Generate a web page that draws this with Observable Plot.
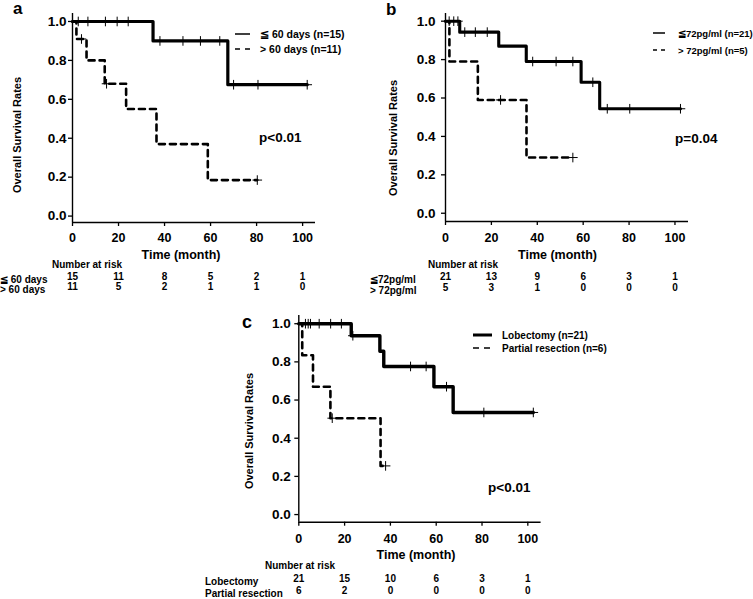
<!DOCTYPE html>
<html><head><meta charset="utf-8">
<script src="https://cdn.jsdelivr.net/npm/d3@7"></script>
<script src="https://cdn.jsdelivr.net/npm/@observablehq/plot@0.6"></script>
<style>
body{margin:0;background:#fff;}
#wrap{position:relative;width:753px;height:599px;overflow:hidden;background:#fff;}
</style></head><body><div id="wrap"></div>
<script>
// ---------- data ----------
const xTicks = [0, 20, 40, 60, 80, 100];
const yTicks = [0, 0.2, 0.4, 0.6, 0.8, 1.0];
const riskTimes = [0, 20, 40, 60, 80, 100];

// panel a
const aSolidT = [0, 35, 67.5, 102];
const aSolidS = [1, 0.9, 0.675, 0.675];
const aSolidCens = [2.5, 6.7, 14.3, 19.4, 24.2, 38, 48, 55.6, 64, 70, 80.6, 102];
const aDashT = [0, 1.7, 6.1, 14, 23.3, 36.5, 58.8, 80.3];
const aDashS = [1, 0.91, 0.80, 0.68, 0.55, 0.37, 0.185, 0.185];
const aDashCens = [3.9, 14.8, 80.3];
const aGroups = ["≦ 60 days", "> 60 days"];
const aLegend = ["≦ 60 days (n=15)", "> 60 days (n=11)"];
const aRisk1 = [15, 11, 8, 5, 2, 1];
const aRisk2 = [11, 5, 2, 1, 1, 0];
const aP = "p<0.01";

// panel b
const bSolidT = [0, 6.2, 23.2, 35.2, 59.1, 67.2, 102.4];
const bSolidS = [1, 0.943, 0.87, 0.79, 0.682, 0.544, 0.544];
const bSolidCens = [1.6, 3.6, 5.4, 8.4, 13, 18.2, 38, 48.2, 55.5, 64.2, 70.5, 80.3, 102.4];
const bDashT = [0, 1.7, 14.1, 35.3, 55.5];
const bDashS = [1, 0.79, 0.59, 0.29, 0.29];
const bDashCens = [24, 55.5];
const bGroups = ["≦72pg/ml", " > 72pg/ml"];
const bLegend = ["≦72pg/ml (n=21)", "> 72pg/ml (n=5)"];
const bRisk1 = [21, 13, 9, 6, 3, 1];
const bRisk2 = [5, 3, 1, 0, 0, 0];
const bP = "p=0.04";

// panel c
const cSolidT = [0, 22.9, 35.4, 37.1, 59, 67.4, 102.4];
const cSolidS = [1, 0.937, 0.856, 0.776, 0.67, 0.535, 0.535];
const cSolidCens = [2.9, 4.1, 5.1, 8.9, 13.9, 18.6, 23.6, 48.8, 55.6, 64.5, 80.8, 102.4];
const cDashT = [0, 1.5, 6.2, 13.8, 35.7, 37.9];
const cDashS = [1, 0.835, 0.67, 0.505, 0.255, 0.255];
const cDashCens = [14.6, 37.9];
const cGroups = ["Lobectomy", "Partial resection"];
const cLegend = ["Lobectomy (n=21)", "Partial resection (n=6)"];
const cRisk1 = [21, 15, 10, 6, 3, 1];
const cRisk2 = [6, 2, 0, 0, 0, 0];
const cP = "p<0.01";

// ---------- drawing ----------
const FONT = "'Liberation Sans', Arial, Helvetica, sans-serif";
const wrap = document.getElementById("wrap");

function stepAt(T, S, t) { let v = S[0]; for (let i = 0; i < T.length; i++) if (T[i] <= t) v = S[i]; return v; }

function panel(c) {
  const solid = c.solidT.map((t, i) => ({t, s: c.solidS[i]}));
  const dashed = c.dashT.map((t, i) => ({t, s: c.dashS[i]}));
  const cens = [
    ...c.solidCens.map(t => ({t, s: stepAt(c.solidT, c.solidS, t)})),
    ...c.dashCens.map(t => ({t, s: stepAt(c.dashT, c.dashS, t)}))
  ];
  const r1 = riskTimes.map((t, i) => ({t, n: c.risk1[i]}));
  const r2 = riskTimes.map((t, i) => ({t, n: c.risk2[i]}));
  const svg = Plot.plot({
    width: c.width, height: c.height,
    marginLeft: c.ml, marginRight: c.mr, marginTop: c.mt, marginBottom: c.mb,
    x: {domain: [0, c.xMax]},
    y: {domain: c.yDomain},
    style: {fontFamily: FONT, fontWeight: "bold", fontSize: "12px", background: "transparent", overflow: "visible", color: "#000"},
    marks: [
      Plot.ruleX([0], {stroke: "#000", strokeWidth: 1.4}),
      Plot.ruleY([c.yDomain[0]], {stroke: "#000", strokeWidth: 1.4}),
      Plot.axisY({ticks: yTicks, tickFormat: d3.format(".1f"), tickSize: 4, tickPadding: c.yPad, label: null, fontSize: 13.5, strokeWidth: 1.3}),
      Plot.axisX({ticks: xTicks, tickSize: 4, tickPadding: c.xPad, label: null, fontSize: 12.5, strokeWidth: 1.3}),
      Plot.line(dashed, {x: "t", y: "s", curve: "step-after", stroke: "#000", strokeWidth: c.dashW, strokeDasharray: "6,5"}),
      Plot.line(solid, {x: "t", y: "s", curve: "step-after", stroke: "#000", strokeWidth: c.solidW}),
      Plot.dot(cens, {x: "t", y: "s", symbol: "plus", r: 3.2, stroke: "#000", fill: "none", strokeWidth: 1}),
      Plot.text(r1, {x: "t", text: "n", frameAnchor: "bottom", dy: c.riskDy[0], fontSize: 10}),
      Plot.text(r2, {x: "t", text: "n", frameAnchor: "bottom", dy: c.riskDy[1], fontSize: 10})
    ]
  });
  svg.style.position = "absolute";
  svg.style.left = c.left + "px";
  svg.style.top = c.top + "px";
  wrap.appendChild(svg);
}

panel({left: 0, top: 0, width: 370, height: 300, ml: 72, mr: 55, mt: 13, mb: 78,
  xMax: 105.6, yDomain: [-0.033, 1.041], yPad: 2, xPad: 7, solidW: 3.2, dashW: 2.6,
  solidT: aSolidT, solidS: aSolidS, solidCens: aSolidCens, dashT: aDashT, dashS: aDashS, dashCens: aDashCens,
  risk1: aRisk1, risk2: aRisk2, riskDy: [57.3, 67.3]});
panel({left: 370, top: 0, width: 383, height: 300, ml: 75, mr: 65, mt: 13, mb: 79,
  xMax: 105.9, yDomain: [-0.043, 1.04], yPad: 6, xPad: 8, solidW: 3.1, dashW: 2.6,
  solidT: bSolidT, solidS: bSolidS, solidCens: bSolidCens, dashT: bDashT, dashS: bDashS, dashCens: bDashCens,
  risk1: bRisk1, risk2: bRisk2, riskDy: [58.3, 69]});
panel({left: 150, top: 290, width: 400, height: 309, ml: 148.3, mr: 9.4, mt: 25, mb: 77.3,
  xMax: 105.8, yDomain: [-0.040, 1.043], yPad: 4, xPad: 8, solidW: 3.4, dashW: 2.6,
  solidT: cSolidT, solidS: cSolidS, solidCens: cSolidCens, dashT: cDashT, dashS: cDashS, dashCens: cDashCens,
  risk1: cRisk1, risk2: cRisk2, riskDy: [60, 71.8]});

// ---------- annotations overlay ----------
const ov = d3.select(wrap).append("svg")
  .attr("width", 753).attr("height", 599)
  .style("position", "absolute").style("left", "0px").style("top", "0px")
  .attr("font-family", FONT).attr("font-weight", "bold");

function txt(x, y, s, size, anchor = "start", rot = 0, base = "central") {
  ov.append("text").attr("transform", `translate(${x},${y}) rotate(${rot})`)
    .attr("text-anchor", anchor).attr("dominant-baseline", base)
    .attr("font-size", size).attr("fill", "#000").text(s);
}
function legendLine(x1, x2, y, w, dash) {
  ov.append("line").attr("x1", x1).attr("x2", x2).attr("y1", y).attr("y2", y)
    .attr("stroke", "#000").attr("stroke-width", w).attr("stroke-dasharray", dash || null);
}

// panel letters
txt(13, 14, "a", 17, "start", 0, "alphabetic");
txt(386, 15, "b", 17, "start", 0, "alphabetic");
txt(242, 328, "c", 18, "start", 0, "alphabetic");

// y titles
txt(17, 135, "Overall Survival Rates", 11, "middle", -90);
txt(393, 138, "Overall Survival Rates", 11, "middle", -90);
txt(249, 431, "Overall Survival Rates", 11, "middle", -90);

// x titles
txt(181, 255, "Time  (month)", 12.5, "middle");
txt(557.5, 255, "Time  (month)", 12.5, "middle");
txt(416, 555, "Time  (month)", 12.5, "middle");

// number at risk
txt(52, 264, "Number at risk", 10);
txt(428, 264, "Number at risk", 10);
txt(265, 565, "Number at risk", 10);

// risk row labels
txt(0, 279.3, aGroups[0], 10); txt(0, 289.3, aGroups[1], 10);
txt(370, 279.3, bGroups[0], 10); txt(370, 290, bGroups[1], 10);
txt(205, 581.7, cGroups[0], 10); txt(205, 593.5, cGroups[1], 10);

// p values
txt(259, 137, aP, 13.5);
txt(675, 138, bP, 13.5);
txt(488, 487, cP, 13.5);

// legends
legendLine(235, 250, 34, 1.5); legendLine(235, 250, 49, 1.5, "5,5");
txt(260, 34, aLegend[0], 10.5); txt(260, 49, aLegend[1], 10.5);
legendLine(653, 665, 33, 1.5); legendLine(653, 665, 50, 1.5, "4,4");
txt(678, 33, bLegend[0], 9.5); txt(678, 50, bLegend[1], 9.5);
legendLine(473, 492, 335, 3); legendLine(473, 492, 348, 1.5, "6,5");
txt(502, 335, cLegend[0], 10); txt(502, 348, cLegend[1], 10);
</script></body></html>
